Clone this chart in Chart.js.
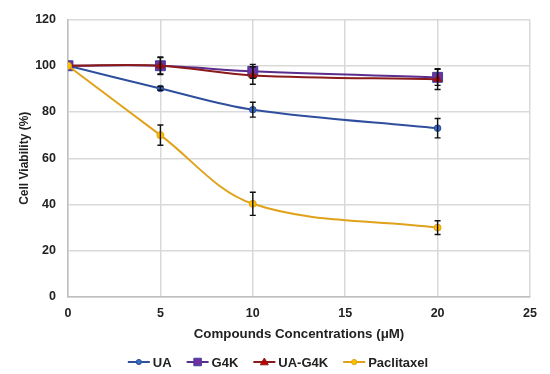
<!DOCTYPE html>
<html>
<head>
<meta charset="utf-8">
<script src="https://cdn.jsdelivr.net/npm/chart.js@4"></script>
<style>
html,body{margin:0;padding:0;background:#fff;}
#wrap{width:550px;height:374px;position:relative;}
</style>
</head>
<body>
<div id="wrap"><canvas id="c" width="550" height="374"></canvas></div>
<script>
const concentrations = [0, 5, 10, 20];
const seriesNames = ["UA", "G4K", "UA-G4K", "Paclitaxel"];
const uaValues = [100, 90.2, 81.0, 73.0];
const uaErrors = [0, 0.8, 3.2, 4.2];
const g4kValues = [100, 100, 97.6, 95.0];
const g4kErrors = [0, 3.8, 3.0, 3.5];
const uag4kValues = [100, 100, 95.8, 94.2];
const uag4kErrors = [0, 3.5, 3.8, 4.5];
const paclitaxelValues = [100, 70.0, 40.3, 30.0];
const paclitaxelErrors = [0, 4.4, 5.0, 3.0];
const xTicks = [0, 5, 10, 15, 20, 25];
const yTicks = [0, 20, 40, 60, 80, 100, 120];

const FONT = "'Liberation Sans', Arial, sans-serif";

function pts(vals){ return concentrations.map((x,i)=>({x:x,y:vals[i]})); }

const styles = [
  {line:'#2f4f9e', fill:'#3b6cc4', border:'#2f4f9e', shape:'circle', r:3.3},
  {line:'#5b2d8e', fill:'#7030a0', border:'#3f3f9f', shape:'rect', r:7},
  {line:'#8b1a1a', fill:'#c00000', border:'#8b1a1a', shape:'triangle', r:4.5},
  {line:'#e0a21a', fill:'#ffc000', border:'#e0a21a', shape:'circle', r:3.5}
];
const vals = [uaValues, g4kValues, uag4kValues, paclitaxelValues];
const errs = [uaErrors, g4kErrors, uag4kErrors, paclitaxelErrors];

const datasets = seriesNames.map((n,i)=>({
  label:n,
  data:pts(vals[i]),
  errors:errs[i],
  order:3-i,
  borderColor:styles[i].line,
  backgroundColor:styles[i].fill,
  pointBackgroundColor:styles[i].fill,
  pointBorderColor:styles[i].border,
  pointBorderWidth:1,
  pointStyle:styles[i].shape,
  pointRadius:styles[i].r,
  borderWidth:2,
  tension:0.35,
  fill:false
}));

const errorBars = {
  id:'errorBars',
  afterDatasetsDraw(chart){
    const ctx = chart.ctx, xs = chart.scales.x, ys = chart.scales.y;
    ctx.save();
    ctx.strokeStyle = '#111';
    ctx.lineWidth = 1.4;
    chart.data.datasets.forEach(ds=>{
      ds.data.forEach((p,i)=>{
        const e = ds.errors[i];
        if(!e) return;
        const px = xs.getPixelForValue(p.x);
        const y1 = ys.getPixelForValue(p.y+e), y2 = ys.getPixelForValue(p.y-e);
        ctx.beginPath();
        ctx.moveTo(px,y1); ctx.lineTo(px,y2);
        ctx.moveTo(px-3,y1); ctx.lineTo(px+3,y1);
        ctx.moveTo(px-3,y2); ctx.lineTo(px+3,y2);
        ctx.stroke();
      });
    });
    ctx.restore();
  }
};

function drawMarker(ctx, shape, x, y, r, fill, border){
  ctx.fillStyle = fill; ctx.strokeStyle = border; ctx.lineWidth = 1;
  ctx.beginPath();
  if(shape==='circle'){ ctx.arc(x,y,r,0,Math.PI*2); }
  else if(shape==='rect'){ ctx.rect(x-r*0.75,y-r*0.75,r*1.5,r*1.5); }
  else { ctx.moveTo(x,y-r); ctx.lineTo(x+r,y+r*0.7); ctx.lineTo(x-r,y+r*0.7); ctx.closePath(); }
  ctx.fill(); ctx.stroke();
}

const customLegend = {
  id:'customLegend',
  afterDraw(chart){
    const ctx = chart.ctx;
    ctx.save();
    ctx.font = "bold 13px " + FONT;
    ctx.textBaseline = 'middle';
    const lineLen = 22, gap = 3, spacing = 15;
    const widths = chart.data.datasets.map(d=>lineLen+gap+ctx.measureText(d.label).width);
    const total = widths.reduce((a,b)=>a+b,0) + spacing*(widths.length-1);
    let x = 278 - total/2;
    const y = 362;
    chart.data.datasets.forEach((d,i)=>{
      ctx.strokeStyle = d.borderColor; ctx.lineWidth = 2;
      ctx.beginPath(); ctx.moveTo(x,y); ctx.lineTo(x+lineLen,y); ctx.stroke();
      const s = styles[i];
      drawMarker(ctx, s.shape, x+lineLen/2, y, s.shape==='rect'? 5: (s.shape==='triangle'?4:2.6), s.fill, s.border);
      ctx.fillStyle = '#222';
      ctx.fillText(d.label, x+lineLen+gap, y+1);
      x += widths[i] + spacing;
    });
    ctx.restore();
  }
};

new Chart(document.getElementById('c'), {
  type:'line',
  data:{datasets:datasets},
  options:{
    responsive:false,
    animation:false,
    layout:{padding:{left:17,right:20,top:18,bottom:32}},
    plugins:{legend:{display:false}, tooltip:{enabled:false}},
    scales:{
      x:{
        type:'linear', min:0, max:25,
        afterBuildTicks(s){ s.ticks = xTicks.map(v=>({value:v})); },
        grid:{color:'#d9d9d9', lineWidth:1.5, drawTicks:false},
        border:{color:'#bfbfbf', width:1.5},
        ticks:{padding:9, color:'#222', font:{family:FONT, size:12.5, weight:'bold'}},
        title:{display:true, text:'Compounds Concentrations (μM)', color:'#222', padding:{top:3,bottom:0}, font:{family:FONT, size:13.3, weight:'bold'}},
        afterFit(s){ s.height = 45; }
      },
      y:{
        min:0, max:120,
        afterBuildTicks(s){ s.ticks = yTicks.map(v=>({value:v})); },
        grid:{color:'#d9d9d9', lineWidth:1.5, drawTicks:false},
        border:{color:'#bfbfbf', width:1.5},
        ticks:{padding:12, color:'#222', font:{family:FONT, size:12.5, weight:'bold'}},
        title:{display:true, text:'Cell Viability (%)', color:'#222', padding:{top:0,bottom:4}, font:{family:FONT, size:12, weight:'bold'}},
        afterFit(s){ s.width = 51; }
      }
    }
  },
  plugins:[errorBars, customLegend]
});
</script>
</body>
</html>
